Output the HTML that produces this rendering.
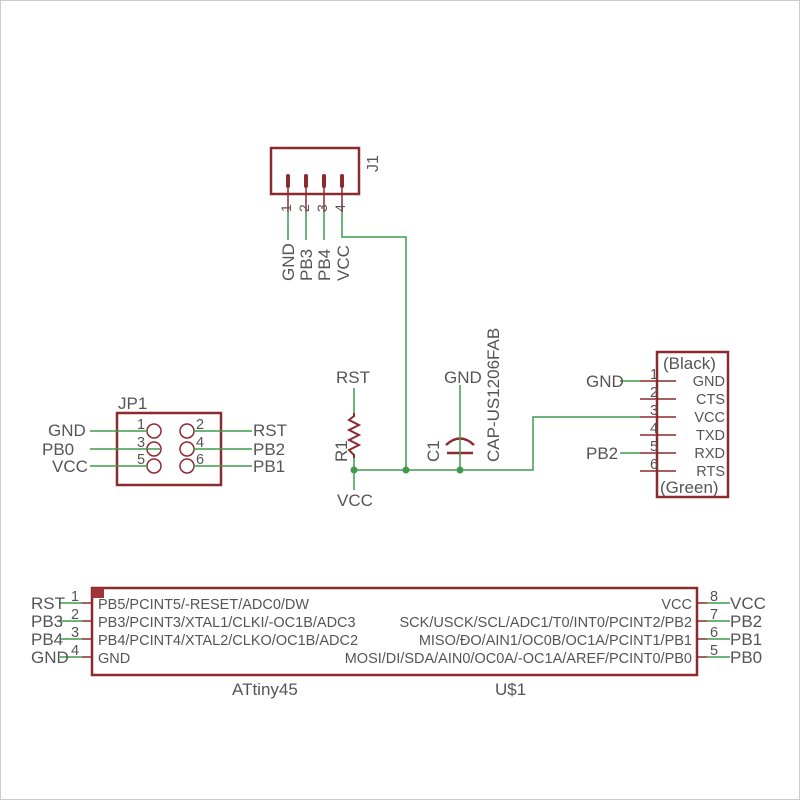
<!DOCTYPE html>
<html><head><style>body{margin:0;background:#fff}svg{display:block}</style></head><body>
<svg width="800" height="800" viewBox="0 0 800 800" xmlns="http://www.w3.org/2000/svg" font-family="Liberation Sans, sans-serif" fill="#555">
<rect x="0.5" y="0.5" width="799" height="799" fill="none" stroke="#ccc"/>
<g stroke="#8b2a2f" stroke-width="2.5" fill="none">
<rect x="271" y="148" width="88" height="46"/>
<rect x="117" y="413" width="104" height="72"/>
<rect x="657" y="352" width="71" height="145"/>
<rect x="92" y="588" width="605" height="87"/>
</g>
<rect x="92" y="588" width="12" height="10" fill="#a0333a"/>
<g stroke="#8b2a2f" stroke-width="4" stroke-linecap="round">
<line x1="288" y1="176" x2="288" y2="186"/><line x1="306" y1="176" x2="306" y2="186"/>
<line x1="324" y1="176" x2="324" y2="186"/><line x1="342" y1="176" x2="342" y2="186"/>
</g>
<g stroke="#8b2a2f" stroke-width="1.5" fill="none">
<line x1="288" y1="186" x2="288" y2="212"/><line x1="306" y1="186" x2="306" y2="212"/>
<line x1="324" y1="186" x2="324" y2="212"/><line x1="342" y1="186" x2="342" y2="212"/>
<polyline points="354,413 354,416 349,420 359,425 349,430 359,435 349,440 359,445 349,450 354,455 354,458" stroke-width="2"/>
<path d="M446,445 Q460,432 474,445" stroke-width="2.5"/>
<line x1="447" y1="453" x2="473" y2="453" stroke-width="2.5"/>
<circle cx="154" cy="431" r="7"/><circle cx="187" cy="431" r="7"/>
<circle cx="154" cy="449" r="7"/><circle cx="187" cy="449" r="7"/>
<circle cx="154" cy="466" r="7"/><circle cx="187" cy="466" r="7"/>
<line x1="640" y1="381" x2="676" y2="381"/><line x1="640" y1="399" x2="676" y2="399"/>
<line x1="640" y1="417" x2="676" y2="417"/><line x1="640" y1="435" x2="676" y2="435"/>
<line x1="640" y1="453" x2="676" y2="453"/><line x1="640" y1="471" x2="676" y2="471"/>
<line x1="82" y1="603" x2="92" y2="603"/><line x1="82" y1="621" x2="92" y2="621"/>
<line x1="82" y1="639" x2="92" y2="639"/><line x1="82" y1="657" x2="92" y2="657"/>
<line x1="697" y1="603" x2="707" y2="603"/><line x1="697" y1="621" x2="707" y2="621"/>
<line x1="697" y1="639" x2="707" y2="639"/><line x1="697" y1="657" x2="707" y2="657"/>
</g>
<g stroke="#3f9a4a" stroke-width="1.5" fill="none">
<line x1="288" y1="212" x2="288" y2="240"/><line x1="306" y1="212" x2="306" y2="240"/>
<line x1="324" y1="212" x2="324" y2="240"/>
<polyline points="342,212 342,237 406,237 406,470"/>
<line x1="354" y1="388" x2="354" y2="413"/><line x1="354" y1="458" x2="354" y2="490"/>
<line x1="460" y1="385" x2="460" y2="470"/>
<polyline points="354,470 533,470 533,417 640,417"/>
<line x1="620" y1="381" x2="640" y2="381"/><line x1="620" y1="453" x2="640" y2="453"/>
<line x1="90" y1="431" x2="148" y2="431"/><line x1="90" y1="449" x2="160" y2="449"/><line x1="90" y1="466" x2="148" y2="466"/>
<line x1="193" y1="431" x2="252" y2="431"/><line x1="193" y1="449" x2="252" y2="449"/><line x1="193" y1="466" x2="252" y2="466"/>
<line x1="60" y1="603" x2="82" y2="603"/><line x1="60" y1="621" x2="82" y2="621"/>
<line x1="60" y1="639" x2="82" y2="639"/><line x1="60" y1="657" x2="82" y2="657"/>
<line x1="707" y1="603" x2="730" y2="603"/><line x1="707" y1="621" x2="730" y2="621"/>
<line x1="707" y1="639" x2="730" y2="639"/><line x1="707" y1="657" x2="730" y2="657"/>
</g>
<g fill="#3f9a4a"><circle cx="354" cy="470" r="3.5"/><circle cx="406" cy="470" r="3.5"/><circle cx="460" cy="470" r="3.5"/></g>
<g font-size="14">
<text transform="translate(291,212) rotate(-90)">1</text>
<text transform="translate(309,212) rotate(-90)">2</text>
<text transform="translate(327,212) rotate(-90)">3</text>
<text transform="translate(345,212) rotate(-90)">4</text>
</g>
<text transform="translate(378,172) rotate(-90)" font-size="16">J1</text>
<g font-size="17">
<text transform="translate(294,281) rotate(-90)">GND</text>
<text transform="translate(312,281) rotate(-90)">PB3</text>
<text transform="translate(330,281) rotate(-90)">PB4</text>
<text transform="translate(349,281) rotate(-90)">VCC</text>
<text x="336" y="383">RST</text>
<text x="337" y="506">VCC</text>
<text transform="translate(347,462) rotate(-90)">R1</text>
<text x="444" y="383">GND</text>
<text transform="translate(439,462) rotate(-90)">C1</text>
<text transform="translate(499,462) rotate(-90)">CAP-US1206FAB</text>
<text x="586" y="387">GND</text>
<text x="586" y="459">PB2</text>
<text x="48" y="436">GND</text><text x="42" y="455">PB0</text><text x="52" y="472">VCC</text>
<text x="253" y="436">RST</text><text x="253" y="455">PB2</text><text x="253" y="472">PB1</text>
<text x="118" y="409">JP1</text>
<text x="31" y="609">RST</text><text x="31" y="627">PB3</text><text x="31" y="645">PB4</text><text x="31" y="663">GND</text>
<text x="730" y="609">VCC</text><text x="730" y="627">PB2</text><text x="730" y="645">PB1</text><text x="730" y="663">PB0</text>
<text x="232" y="695">ATtiny45</text><text x="495" y="695">U$1</text>
<text x="663" y="369">(Black)</text><text x="660" y="493">(Green)</text>
</g>
<g font-size="14.5">
<g text-anchor="end"><text x="725" y="386">GND</text><text x="725" y="404">CTS</text><text x="725" y="422">VCC</text><text x="725" y="440">TXD</text><text x="725" y="458">RXD</text><text x="725" y="476">RTS</text></g>
<text x="650" y="379">1</text><text x="650" y="397">2</text><text x="650" y="415">3</text><text x="650" y="433">4</text><text x="650" y="451">5</text><text x="650" y="469">6</text>
<text x="137" y="429">1</text><text x="137" y="447">3</text><text x="137" y="464">5</text>
<text x="196" y="429">2</text><text x="196" y="447">4</text><text x="196" y="464">6</text>
<text x="98" y="609">PB5/PCINT5/-RESET/ADC0/DW</text>
<text x="98" y="627">PB3/PCINT3/XTAL1/CLKI/-OC1B/ADC3</text>
<text x="98" y="645">PB4/PCINT4/XTAL2/CLKO/OC1B/ADC2</text>
<text x="98" y="663">GND</text>
<g text-anchor="end"><text x="692" y="609">VCC</text>
<text x="692" y="627">SCK/USCK/SCL/ADC1/T0/INT0/PCINT2/PB2</text>
<text x="692" y="645">MISO/ĐO/AIN1/OC0B/OC1A/PCINT1/PB1</text>
<text x="692" y="663">MOSI/DI/SDA/AIN0/OC0A/-OC1A/AREF/PCINT0/PB0</text></g>
<text x="71" y="601">1</text><text x="71" y="619">2</text><text x="71" y="637">3</text><text x="71" y="655">4</text>
<text x="710" y="601">8</text><text x="710" y="619">7</text><text x="710" y="637">6</text><text x="710" y="655">5</text>
</g>
</svg>
</body></html>
